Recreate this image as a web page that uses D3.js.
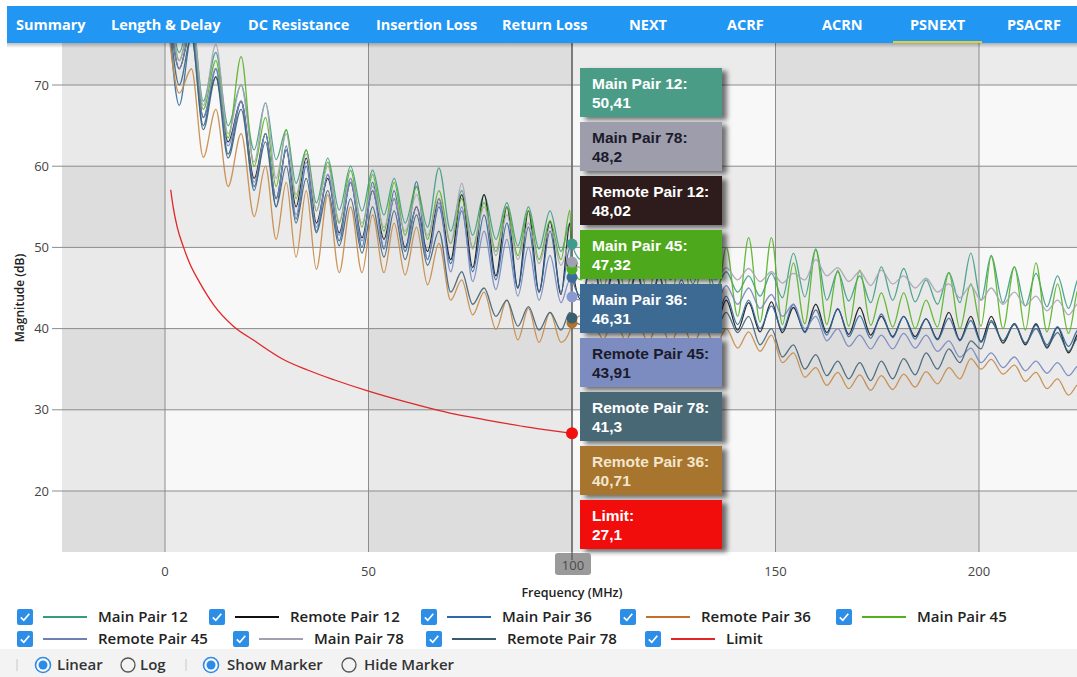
<!DOCTYPE html>
<html><head><meta charset="utf-8">
<script src="https://cdn.jsdelivr.net/npm/d3@7"></script>
<style>
html,body{margin:0;padding:0;background:#fff;overflow:hidden;}
svg{display:block;font-family:"Open Sans",sans-serif;}
</style></head><body>
<svg id="c" width="1077" height="677"></svg>
<script>
// ---------------- DATA ----------------
const navTabs = ["Summary","Length & Delay","DC Resistance","Insertion Loss","Return Loss","NEXT","ACRF","ACRN","PSNEXT","PSACRF"];
const activeTab = "PSNEXT";
const xTicks = [0, 50, 100, 150, 200];
const yTicks = [20, 30, 40, 50, 60, 70];
const markerFreq = 100;

const freqs = [1,3.5,6.5,9.4,12.5,15.5,18.7,21.9,24.7,27.3,
29.8,32.2,34.7,37.2,40,42.8,45.6,48.4,51,53.8,
56.3,59,61.8,64.5,67.3,70.2,72.9,75.6,78.4,81.3,
84,86.7,89.3,91.9,94.6,97.3,99.5,100,102.3,105,
107.7,110.4,113.2,115.9,118.7,121.4,124.2,126.9,129.7,132.4,
135.2,137.9,140.7,143.4,146.2,149,151.7,154.4,157.2,159.9,
162.6,165.3,168,170.7,173.4,176,178.8,181.5,184.3,187,
189.8,192.6,195.3,198,200.5,203,205.9,208.7,211.4,214,
216.7,219.3,222,224.6,226];

const mainPair12 = [82,74,79,68,74,65,70,62,67.8,60.8,
64.5,57.9,62,55.5,61,54.6,60,54.5,59.5,54,
58.5,53,57.5,52.5,59.8,52,57,51.5,56.5,51,
55.5,50.2,55,49.8,54.5,49.5,53,50.41,48.5,52,
47.5,51.5,47,51,46.5,50.5,46,50,45.5,49.5,
45,47,44.5,46.5,44,46.8,43.8,49.3,43.9,49.8,
43.5,47,43.4,46.5,43.2,47.6,43.5,47.4,43.3,46,
43,46.9,43.2,49.3,43.5,49,43.2,47.6,42.8,46.8,
42.7,46.5,42.5,46.3,42.3];

const remotePair12 = [80,72,77,66,71,63,68,58.5,64,56,
62,55,61,53,58.5,51.8,58,51.2,57,51,
56,50,55,49.5,56,48.5,56.5,47.5,56.5,46.5,
55,45,54.5,44.5,53.2,44.2,53,48.02,43.5,49,
42.5,47.5,42,47,41.5,46.5,41,45.5,40.5,45,
40.2,43.5,39.8,43.2,39.6,43.3,39.5,42.6,39.6,43,
39.5,42.4,39.3,42.6,39.2,41.5,39,41.5,39,41.2,
38.7,42,38.6,41.5,38.4,41.5,38.2,40.6,38,40.6,
37.6,40.2,37,39.5,37];

const mainPair36 = [78,67.5,76,65,72,61.5,68,57,64,55,
62.5,53.5,60,52,59,50.8,58.5,50,58,49.8,
57,49.5,58.1,48.5,55,48,54.5,47,54,46,
53,45,52.5,44.5,52,44.5,50,46.31,44,48,
43.5,47.5,43,47,42.5,46.5,42,46,41.5,45,
41,44,40.5,43.5,40,42.8,39.8,43,39.5,42.3,
39.2,42.5,39,41.6,38.8,41.8,38.9,41.5,38.7,41.2,
38.6,41.3,38.5,41,38.3,40.8,38.5,40.6,38.2,40.4,
38,40.2,37.8,40,37.6];

const remotePair36 = [76,69,72,61.1,67,57.5,64,53.8,60,51,
58,48.8,57,47.3,56.5,46.9,55,46.9,54,46.9,
53,46.6,52.5,45.4,50.5,43.5,46,41.7,44.5,39.9,
43.5,38.6,42.5,38.3,42,38.3,39.8,40.71,41.6,41,
38.7,41.5,38.5,41.2,38.3,41,38.2,40.8,38,40.5,
37.8,40,37.6,39.6,37.2,39.2,35.8,37,34,35.2,
33,34.6,32.6,34.3,32.4,34.2,32.5,34.4,32.8,34.7,
33.2,35.2,33.8,36.3,35,36.2,34.4,35.5,33.5,34.6,
32.6,33.8,31.8,33.2,32];

const mainPair45 = [82,73,78,67,73,63.5,73.5,60,66,57.5,
64.5,56,62,54.5,60.5,53,59.5,52.5,59,52,
58,51.5,57.5,51,57,50.5,56,50,55.5,49.5,
55,49,54.5,48.5,53.3,48.5,54.6,47.32,46,51,
45,50.5,44.5,50,44,50,43,50.5,42.5,50,
42,50,41.5,51.2,40.8,51.2,40.5,48.1,40.6,49.7,
40.5,47.2,40.3,47.2,40.4,44.4,40.2,44.4,40,43.5,
40.2,46.9,40,45.5,40.3,48.9,40,47.6,39.8,48.1,
39.6,45.5,39.4,45.2,39.3];

const remotePair45 = [80,72,77,66,72,62.5,68,58,64,56,
62,54,60.5,52.5,59,51.5,58,50.8,57,50,
56,49.5,55,48.5,55.5,47,55,45.8,52,44.8,
51,44,50,43.5,49,43.2,46,43.91,43.5,45.5,
43.2,45.5,43,45.3,43,45.2,43,45.3,43,45.2,
43,45.3,43,45,42.5,44.2,41.5,43,40,41.5,
38.5,40,37.8,39.2,37.5,39.2,37.5,39.4,37.6,39.2,
37.2,38.5,36.5,37.6,35.8,37,35.2,36.5,34.8,36,
34.5,35.8,34.2,35.5,34];

const mainPair78 = [83,73,79,67.5,75,64,70,60.5,67.8,58.5,
64,56.5,61.5,54.5,60,53.2,58.5,53,57.5,52.5,
56,52,56.5,51.5,56,50.5,57.9,49.8,55,49,
54,48.5,53,48,52.5,47.8,50.5,48.2,47.5,49,
47,48.5,46.8,48.5,46.5,48.2,46.3,48,46.2,47.8,
46,47.5,46,47.4,45.8,47,45.6,46.8,46,48.5,
46.5,47.5,45.8,47,45.3,47.2,45.5,46.5,45,46.2,
44.5,45.5,43.8,45.3,43.5,45,43,44.5,42.8,44,
42.2,43.5,41.7,43.2,41.5];

const remotePair78 = [79,70,76,64.5,71,61,67,57.5,63,55,
60,53,58.5,51.8,57,50.2,56,49.3,55,48.8,
54.5,48.5,54,47.8,52,44.5,47,43,45,41.5,
43.5,40.3,42.7,39.8,42,39.8,42,41.3,40.5,43,
40.5,42.8,40.3,42.6,40.2,42.5,40,42.4,39.8,42.2,
39.8,42,39.5,41.5,38,40,36.5,38,35,36.8,
34.2,36,33.8,35.8,33.6,36,33.8,36.3,34.3,37,
35,37.5,35.8,38.5,37.5,41,38.5,40.5,38.2,40,
37.8,39.5,37.2,39,37];

const limitFreqs = [1.4,2,3,4.5,6,8.6,12,16.8,22,29.1,35,41.5,50,62,70,78.4,90,100];
const limitValues = [57.1,55,52.5,50.1,48.1,45.6,42.9,40.3,38.5,36.2,34.9,33.7,32.3,30.6,29.6,28.8,27.8,27.1];

const seriesNames = ["Main Pair 12","Remote Pair 12","Main Pair 36","Remote Pair 36","Main Pair 45","Remote Pair 45","Main Pair 78","Remote Pair 78"];
const seriesValues = [mainPair12, remotePair12, mainPair36, remotePair36, mainPair45, remotePair45, mainPair78, remotePair78];
const limitName = "Limit";

// ---------------- STYLE ----------------
const lineColors = ["#3d9c84","#151515","#2f69a3","#c58a45","#55b322","#7687bf","#a5a5b5","#3f6275"];
const legendColors = ["#3a9a80","#111111","#2a6aa8","#c0702a","#50b020","#7080b0","#a0a0b0","#3a5a70"];
const markerColors = ["#3f9c8c","#2b1a1e","#3a6d9a","#b0742a","#4caf22","#8a9ad0","#a0a0b0","#3a6070"];
const boxColors = ["#4b9c87","#2f1a1f","#3d6b93","#a8742e","#4ea81e","#7c8cc0","#9d9dab","#4a6775"];
const boxTextColors = ["#ffffff","#ffffff","#ffffff","#f3e6cc","#ffffff","#1b1b2b","#1b1b2b","#ffffff"];
const limitColor = "#e02626";

const svg = d3.select("#c");
const plot = {left:62, right:1077, top:43, bottom:552};
const x = d3.scaleLinear().domain([0,200]).range([165,979]);
const y = d3.scaleLinear().domain([20,70]).range([491,85]);

const defs = svg.append("defs");
defs.append("clipPath").attr("id","clip").append("rect")
  .attr("x",plot.left).attr("y",plot.top).attr("width",plot.right-plot.left).attr("height",plot.bottom-plot.top);
const flt = defs.append("filter").attr("id","sh").attr("x","-10%").attr("y","-20%").attr("width","130%").attr("height","160%");
flt.append("feDropShadow").attr("dx",5).attr("dy",3).attr("stdDeviation",2.5).attr("flood-color","#000").attr("flood-opacity",0.55);
const grad = defs.append("linearGradient").attr("id","navsh").attr("x1",0).attr("y1",0).attr("x2",0).attr("y2",1);
grad.append("stop").attr("offset","0%").attr("stop-color","#000").attr("stop-opacity",0.25);
grad.append("stop").attr("offset","100%").attr("stop-color","#000").attr("stop-opacity",0);

// background + bands
const bg = svg.append("g").attr("clip-path","url(#clip)");
bg.append("rect").attr("x",plot.left).attr("y",plot.top).attr("width",plot.right-plot.left).attr("height",plot.bottom-plot.top).attr("fill","#f8f8f8");
const xStep = xTicks[1]-xTicks[0], yStep = yTicks[1]-yTicks[0];
for (let a = xTicks[0]-xStep; a < xTicks[xTicks.length-1]+2*xStep; a += xStep) {
  if ((((a - xTicks[0]) / xStep) % 2 + 2) % 2 === 1) {
    bg.append("rect").attr("x",x(a)).attr("y",plot.top).attr("width",x(a+xStep)-x(a)).attr("height",plot.bottom-plot.top)
      .attr("fill","#000").attr("fill-opacity",0.06);
  }
}
for (let b = yTicks[0]-yStep; b < yTicks[yTicks.length-1]+2*yStep; b += yStep) {
  if ((((b - yTicks[0]) / yStep) % 2 + 2) % 2 === 1) {
    bg.append("rect").attr("x",plot.left).attr("y",y(b+yStep)).attr("width",plot.right-plot.left).attr("height",y(b)-y(b+yStep))
      .attr("fill","#000").attr("fill-opacity",0.05);
  }
}

// gridlines
const grid = svg.append("g");
grid.selectAll(".vg").data(xTicks).join("line").attr("x1",d=>x(d)).attr("x2",d=>x(d)).attr("y1",plot.top).attr("y2",plot.bottom)
  .attr("stroke","#8c8c8c").attr("stroke-width",1);
grid.selectAll(".hg").data(yTicks).join("line").attr("x1",52).attr("x2",plot.right).attr("y1",d=>y(d)).attr("y2",d=>y(d))
  .attr("stroke","#8c8c8c").attr("stroke-width",1);

// series lines
const lineGen = d3.line().x((d,i)=>x(freqs[i])).y(d=>y(d)).curve(d3.curveMonotoneX);
const lines = svg.append("g").attr("clip-path","url(#clip)");
seriesValues.forEach((vals,i)=>{
  lines.append("path").attr("d",lineGen(vals)).attr("fill","none").attr("stroke",lineColors[i])
    .attr("stroke-width",1.3).attr("stroke-opacity",0.9).attr("stroke-linejoin","round");
});
const limGen = d3.line().x((d,i)=>x(limitFreqs[i])).y(d=>y(d)).curve(d3.curveMonotoneX);
lines.append("path").attr("d",limGen(limitValues)).attr("fill","none").attr("stroke",limitColor).attr("stroke-width",1.3);

// crosshair
svg.append("line").attr("x1",x(markerFreq)).attr("x2",x(markerFreq)).attr("y1",plot.top).attr("y2",560).attr("stroke","#555").attr("stroke-width",1.2);

// markers
const mIdx = freqs.indexOf(markerFreq);
const mk = svg.append("g");
seriesValues.forEach((vals,i)=>{
  mk.append("circle").attr("cx",x(markerFreq)).attr("cy",y(vals[mIdx])).attr("r",5.5).attr("fill",markerColors[i]);
});
mk.append("circle").attr("cx",x(markerFreq)).attr("cy",y(limitValues[limitFreqs.indexOf(markerFreq)])).attr("r",6).attr("fill","#f01010");

// tooltips
const entries = seriesNames.map((n,i)=>({name:n, v:seriesValues[i][mIdx], fill:boxColors[i], tc:boxTextColors[i]}))
  .sort((a,b)=>b.v-a.v);
entries.push({name:limitName, v:limitValues[limitFreqs.indexOf(markerFreq)], fill:"#f20e0e", tc:"#ffffff"});
const tt = svg.append("g");
entries.forEach((e,i)=>{
  const top = 68 + i*54;
  const g = tt.append("g");
  g.append("rect").attr("x",580).attr("y",top).attr("width",142).attr("height",49).attr("fill",e.fill).attr("filter","url(#sh)");
  g.append("text").attr("x",592).attr("y",top+21).attr("fill",e.tc)
    .style("font-family","'Liberation Sans',Arial,sans-serif").style("font-weight","bold").style("font-size","15.5px").text(e.name+":");
  g.append("text").attr("x",592).attr("y",top+40).attr("fill",e.tc)
    .style("font-family","'Liberation Sans',Arial,sans-serif").style("font-weight","bold").style("font-size","15.5px")
    .text(String(e.v).replace(".",","));
});

// axes text
const ax = svg.append("g").style("font-family","'Open Sans',sans-serif");
ax.selectAll(".yt").data(yTicks).join("text").attr("x",49).attr("y",d=>y(d)+4.5).attr("text-anchor","end")
  .attr("fill","#444").style("font-size","13px").text(d=>d);
ax.selectAll(".xt").data(xTicks.filter(d=>d!==markerFreq)).join("text").attr("x",d=>x(d)).attr("y",576).attr("text-anchor","middle")
  .attr("fill","#444").style("font-size","13px").text(d=>d);
// crosshair label (covers the 100 tick)
ax.append("rect").attr("x",x(markerFreq)-17).attr("y",553).attr("width",36).attr("height",22).attr("rx",3).attr("fill","#9a9a9a");
ax.append("line").attr("x1",x(markerFreq)).attr("x2",x(markerFreq)).attr("y1",553).attr("y2",560).attr("stroke","#555").attr("stroke-width",1.2);
ax.append("text").attr("x",x(markerFreq)+1).attr("y",570).attr("text-anchor","middle").attr("fill","#4a4a4a").style("font-size","13px").text(markerFreq);
ax.append("text").attr("x",572).attr("y",597).attr("text-anchor","middle").attr("fill","#222")
  .style("font-size","12.5px").style("font-weight","600").text("Frequency (MHz)");
ax.append("text").attr("transform","translate(24,298) rotate(-90)").attr("text-anchor","middle").attr("fill","#222")
  .style("font-size","12px").style("font-weight","600").text("Magnitude (dB)");

// nav bar
const nav = svg.append("g");
nav.append("rect").attr("x",7).attr("y",43).attr("width",1070).attr("height",5).attr("fill","url(#navsh)");
nav.append("rect").attr("x",7).attr("y",6).attr("width",1070).attr("height",37).attr("fill","#2196f3");
const navX = [16,111,248,376,502,629,727,822,910,1007];
navTabs.forEach((t,i)=>{
  const tx = nav.append("text").attr("x",navX[i]).attr("y",30).attr("fill","#fff")
    .style("font-family","'Open Sans',sans-serif").style("font-weight","700").style("font-size","14.5px").text(t);
  if (t===activeTab) {
    const w = tx.node().getComputedTextLength();
    nav.append("rect").attr("x",navX[i]-17).attr("y",41).attr("width",w+34).attr("height",2).attr("fill","#d9d23c");
  }
});

// legend
const lg = svg.append("g").style("font-family","'Open Sans',sans-serif");
lg.append("rect").attr("x",0).attr("y",649).attr("width",1077).attr("height",28).attr("fill","#f3f3f3");
const legendItems = seriesNames.map((n,i)=>({name:n,color:legendColors[i]})).concat([{name:limitName,color:limitColor}]);
const legendRows = [[0,1,2,3,4],[5,6,7,8]];
const legendCbX = [[17,209,421,620,836],[17,233,426,645]];
const legendRowY = [617,639];
function checkbox(g,cx,cy){
  g.append("rect").attr("x",cx).attr("y",cy-8).attr("width",16).attr("height",16).attr("rx",2).attr("fill","#2d8ee8");
  g.append("path").attr("d",`M${cx+3.8},${cy+0.3} L${cx+6.8},${cy+3.3} L${cx+12.3},${cy-3.2}`).attr("fill","none").attr("stroke","#fff").attr("stroke-width",1.7);
}
legendRows.forEach((row,r)=>{
  row.forEach((idx,k)=>{
    const item = legendItems[idx];
    const cx = legendCbX[r][k], cy = legendRowY[r];
    checkbox(lg,cx,cy);
    lg.append("line").attr("x1",cx+26).attr("x2",cx+70).attr("y1",cy).attr("y2",cy).attr("stroke",item.color).attr("stroke-width",2);
    lg.append("text").attr("x",cx+81).attr("y",cy+5).attr("fill","#222").style("font-size","15px").style("font-weight","600").text(item.name);
  });
});
// radio row
const radioItems = [
  {cx:43,label:"Linear",lx:57,on:true},{cx:128,label:"Log",lx:140,on:false},
  {cx:211,label:"Show Marker",lx:227,on:true},{cx:349,label:"Hide Marker",lx:364,on:false}];
[17,186].forEach(dx=>lg.append("line").attr("x1",dx).attr("x2",dx).attr("y1",659).attr("y2",671).attr("stroke","#c8c8c8"));
radioItems.forEach(ri=>{
  if (ri.on){
    lg.append("circle").attr("cx",ri.cx).attr("cy",665).attr("r",7.5).attr("fill","#fff").attr("stroke","#2b8be6").attr("stroke-width",1.6);
    lg.append("circle").attr("cx",ri.cx).attr("cy",665).attr("r",4.5).attr("fill","#2b8be6");
  } else {
    lg.append("circle").attr("cx",ri.cx).attr("cy",665).attr("r",7).attr("fill","none").attr("stroke","#555").attr("stroke-width",1.3);
  }
  lg.append("text").attr("x",ri.lx).attr("y",670).attr("fill","#333").style("font-size","15px").style("font-weight","600").text(ri.label);
});
</script>
</body></html>
